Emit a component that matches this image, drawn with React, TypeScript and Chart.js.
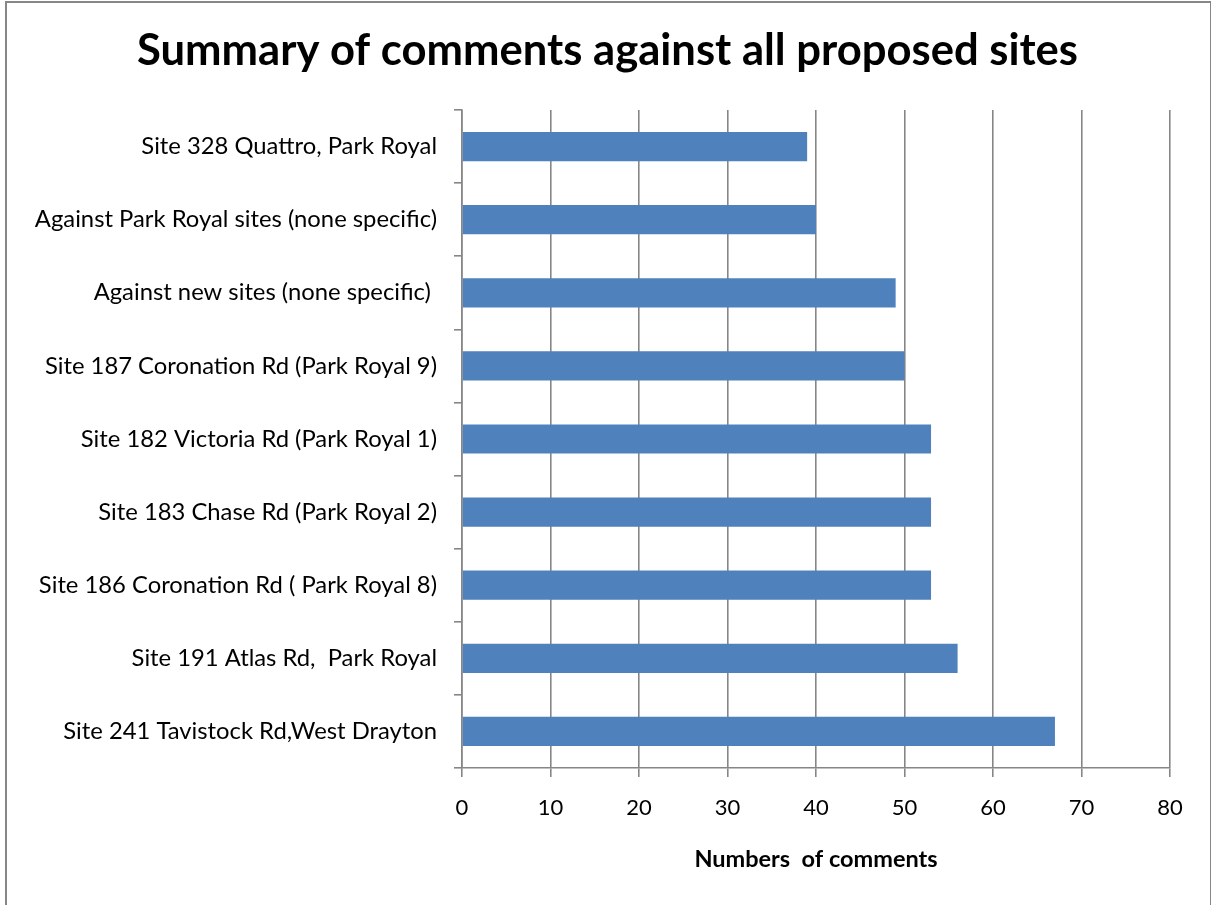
import React, { useEffect, useRef } from "react";
import { Chart, registerables } from "chart.js";

Chart.register(...registerables);

const titleText = "Summary of comments against all proposed sites";
const axisTitle = "Numbers  of comments";
const categories = [
  "Site 328 Quattro, Park Royal",
  "Against Park Royal sites (none specific)",
  "Against new sites (none specific) ",
  "Site 187 Coronation Rd (Park Royal 9)",
  "Site 182 Victoria Rd (Park Royal 1)",
  "Site 183 Chase Rd (Park Royal 2)",
  "Site 186 Coronation Rd ( Park Royal 8)",
  "Site 191 Atlas Rd,  Park Royal",
  "Site 241 Tavistock Rd,West Drayton",
];
const comments = [39, 40, 49, 50, 53, 53, 53, 56, 67];
const xMin = 0;
const xMax = 80;
const xStep = 10;

const FONT = "Lato, 'Open Sans', sans-serif";
const GRID = "#868686";

const centeredTitle = {
  id: "centeredTitle",
  afterDraw(chart: any) {
    const ctx = chart.ctx;
    ctx.save();
    ctx.font = `bold 43.6px ${FONT}`;
    ctx.fillStyle = "#000";
    ctx.textAlign = "center";
    ctx.textBaseline = "middle";
    ctx.fillText(titleText, chart.width / 2 + 2, 51);
    ctx.restore();
  },
};

export default function App() {
  const ref = useRef<HTMLCanvasElement | null>(null);

  useEffect(() => {
    document.body.style.margin = "0";
    const ctx = ref.current!;
    const chart = new Chart(ctx, {
      type: "bar",
      data: {
        labels: categories,
        datasets: [
          {
            data: comments,
            backgroundColor: "#4F81BD",
            borderWidth: 0,
            categoryPercentage: 1,
            barPercentage: 0.4,
          },
        ],
      },
      plugins: [centeredTitle],
      options: {
        indexAxis: "y",
        animation: false,
        responsive: true,
        maintainAspectRatio: false,
        layout: { padding: { left: 0, right: 41, top: 110, bottom: 0 } },
        plugins: {
          legend: { display: false },
          tooltip: { enabled: false },
          title: { display: false },
        },
        scales: {
          x: {
            min: xMin,
            max: xMax,
            ticks: {
              stepSize: xStep,
              color: "#000",
              font: { family: FONT, size: 22 },
              padding: 18,
            },
            grid: {
              color: GRID,
              lineWidth: 1.6,
              tickLength: 9,
              drawTicks: true,
            },
            border: { display: true, color: GRID, width: 1.6 },
            title: {
              display: true,
              text: axisTitle,
              color: "#000",
              font: { family: FONT, size: 23.5, weight: "bold" },
              padding: { top: 0, bottom: 31 },
            },
            afterFit: (scale: any) => {
              scale.height = 137;
            },
          },
          y: {
            ticks: {
              color: "#000",
              font: { family: FONT, size: 23.8 },
              padding: 17,
            },
            grid: {
              color: GRID,
              lineWidth: 1.6,
              drawOnChartArea: false,
              drawTicks: true,
              tickLength: 8,
              offset: true,
            },
            border: { display: true, color: GRID, width: 1.6 },
            afterFit: (scale: any) => {
              scale.width = 462;
            },
          },
        },
      },
    });
    return () => chart.destroy();
  }, []);

  return (
    <div style={{ position: "absolute", left: 0, top: 0, width: 1211, height: 905, overflow: "hidden", background: "#fff" }}>
      <canvas ref={ref} />
      <div
        style={{
          position: "absolute",
          left: 5,
          top: 1,
          width: 1207,
          height: 920,
          border: "2px solid #878787",
          boxSizing: "border-box",
          pointerEvents: "none",
        }}
      />
    </div>
  );
}
